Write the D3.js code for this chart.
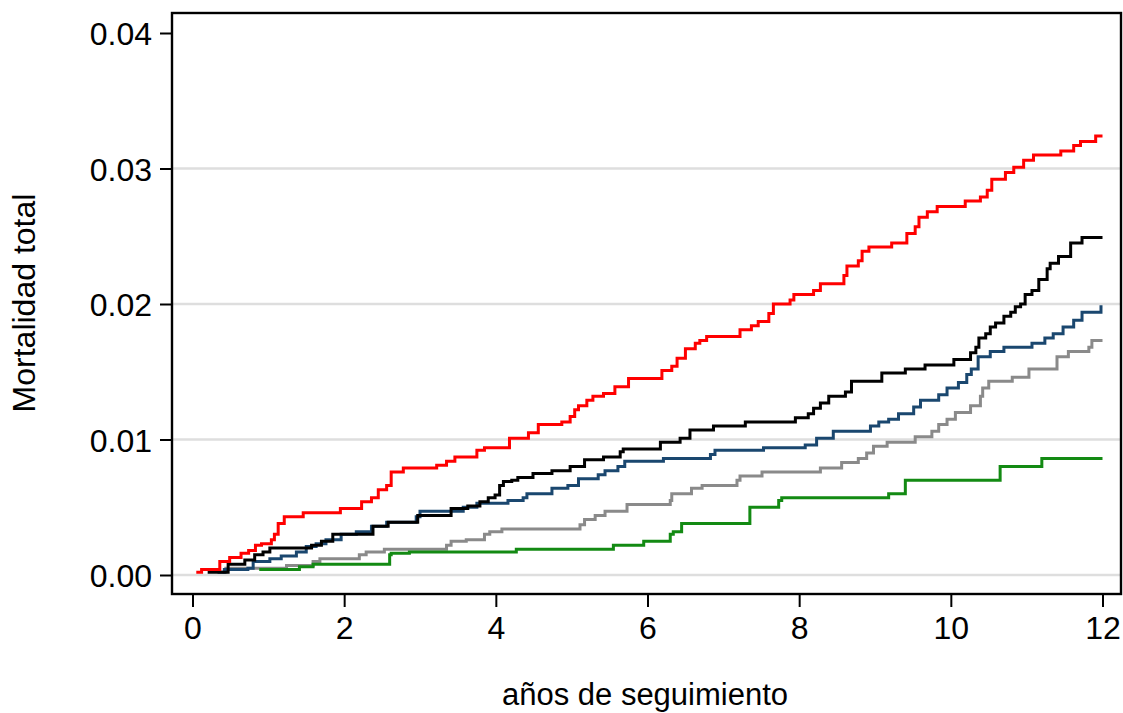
<!DOCTYPE html>
<html>
<head>
<meta charset="utf-8">
<script src="https://cdn.jsdelivr.net/npm/d3@7"></script>
<style>
  body { margin: 0; background: #fff; }
  text { font-family: "Liberation Sans", Arial, Helvetica, sans-serif; }
</style>
</head>
<body>
<svg id="chart" width="1123" height="713"></svg>
<script>
// tiempos (años) y mortalidad acumulada de cada grupo
var tRojo = [0.05, 0.12, 0.36, 0.49, 0.64, 0.74, 0.83, 0.91, 1.04, 1.08, 1.13, 1.21, 1.46, 1.95, 2.23, 2.36, 2.45, 2.56, 2.62, 2.78,
  3.22, 3.35, 3.46, 3.75, 3.85, 4.18, 4.43, 4.56, 4.87, 4.98, 5.04, 5.09, 5.20, 5.28, 5.42, 5.57, 5.75, 6.19, 6.32, 6.39,
  6.50, 6.63, 6.69, 6.78, 7.22, 7.37, 7.46, 7.60, 7.66, 7.88, 7.93, 8.19, 8.28, 8.59, 8.63, 8.78, 8.83, 8.92, 9.22, 9.42,
  9.53, 9.58, 9.69, 9.82, 10.19, 10.39, 10.48, 10.54, 10.72, 10.83, 10.96, 11.09, 11.45, 11.62, 11.71, 11.91, 12.0];
var mRojo = [0.0002, 0.0004, 0.0010, 0.0013, 0.0016, 0.0018, 0.0022, 0.0023, 0.0026, 0.0030, 0.0038, 0.0043, 0.0046, 0.0049, 0.0054, 0.0057, 0.0063, 0.0066, 0.0076, 0.0079,
  0.0081, 0.0084, 0.0087, 0.0092, 0.0094, 0.0101, 0.0105, 0.0111, 0.0113, 0.0117, 0.0122, 0.0125, 0.0129, 0.0132, 0.0134, 0.0139, 0.0145, 0.0151, 0.0154, 0.0160,
  0.0167, 0.0171, 0.0173, 0.0176, 0.0181, 0.0184, 0.0187, 0.0193, 0.0200, 0.0203, 0.0207, 0.0210, 0.0215, 0.0221, 0.0228, 0.0232, 0.0239, 0.0242, 0.0245, 0.0252,
  0.0257, 0.0264, 0.0268, 0.0272, 0.0276, 0.0279, 0.0284, 0.0292, 0.0297, 0.0301, 0.0306, 0.0310, 0.0313, 0.0317, 0.0320, 0.0324, 0.0324];

var tNegro = [0.20, 0.47, 0.69, 0.82, 0.93, 1.02, 1.57, 1.70, 1.85, 2.38, 2.58, 2.97, 3.41, 3.63, 3.79, 3.90, 3.99, 4.05, 4.10, 4.21,
  4.29, 4.49, 4.74, 4.98, 5.17, 5.42, 5.64, 5.68, 6.17, 6.43, 6.56, 6.87, 7.29, 7.95, 8.12, 8.19, 8.28, 8.39, 8.61, 8.69,
  9.09, 9.40, 9.66, 10.04, 10.26, 10.33, 10.37, 10.46, 10.52, 10.59, 10.70, 10.79, 10.85, 10.92, 10.98, 11.07, 11.16, 11.27, 11.31, 11.42,
  11.58, 11.73, 12.0];
var mNegro = [0.0002, 0.0008, 0.0011, 0.0015, 0.0017, 0.0020, 0.0022, 0.0025, 0.0030, 0.0036, 0.0039, 0.0044, 0.0049, 0.0051, 0.0054, 0.0057, 0.0059, 0.0066, 0.0069, 0.0070,
  0.0072, 0.0075, 0.0077, 0.0080, 0.0085, 0.0087, 0.0091, 0.0093, 0.0098, 0.0101, 0.0107, 0.0110, 0.0113, 0.0116, 0.0119, 0.0123, 0.0127, 0.0132, 0.0135, 0.0143,
  0.0149, 0.0152, 0.0155, 0.0159, 0.0164, 0.0168, 0.0175, 0.0178, 0.0183, 0.0186, 0.0191, 0.0194, 0.0198, 0.0200, 0.0207, 0.0210, 0.0218, 0.0226, 0.0230, 0.0235,
  0.0245, 0.0249, 0.0249];

var tAzul = [0.33, 0.42, 0.73, 0.80, 1.02, 1.17, 1.37, 1.50, 1.63, 1.76, 1.96, 2.16, 2.36, 2.56, 2.95, 3.00, 3.57, 3.75, 4.16, 4.36,
  4.41, 4.74, 4.95, 5.09, 5.35, 5.44, 5.61, 5.70, 6.21, 6.83, 6.89, 7.53, 8.08, 8.23, 8.45, 8.94, 9.05, 9.18, 9.31, 9.51,
  9.60, 9.84, 9.95, 10.10, 10.21, 10.27, 10.36, 10.52, 10.70, 11.07, 11.24, 11.35, 11.48, 11.62, 11.73, 11.98, 12.0];
var mAzul = [0.0002, 0.0004, 0.0005, 0.0010, 0.0012, 0.0014, 0.0017, 0.0021, 0.0023, 0.0026, 0.0030, 0.0032, 0.0036, 0.0039, 0.0043, 0.0047, 0.0050, 0.0053, 0.0055, 0.0057,
  0.0060, 0.0064, 0.0066, 0.0071, 0.0074, 0.0077, 0.0080, 0.0084, 0.0086, 0.0089, 0.0092, 0.0094, 0.0096, 0.0101, 0.0106, 0.0110, 0.0113, 0.0115, 0.0119, 0.0124,
  0.0129, 0.0133, 0.0138, 0.0142, 0.0148, 0.0152, 0.0161, 0.0165, 0.0168, 0.0171, 0.0175, 0.0178, 0.0183, 0.0188, 0.0194, 0.0198, 0.0198];

var tGris = [0.40, 0.44, 1.24, 1.59, 1.68, 2.20, 2.29, 2.53, 3.35, 3.41, 3.61, 3.85, 3.92, 4.08, 5.11, 5.17, 5.31, 5.44, 5.73, 6.30,
  6.32, 6.58, 6.72, 7.18, 7.22, 7.51, 8.28, 8.56, 8.78, 8.89, 8.98, 9.16, 9.53, 9.75, 9.84, 9.95, 10.06, 10.26, 10.39, 10.42,
  10.50, 10.81, 11.03, 11.40, 11.55, 11.82, 11.86, 12.0];
var mGris = [0.0002, 0.0005, 0.0007, 0.0010, 0.0012, 0.0015, 0.0017, 0.0019, 0.0022, 0.0025, 0.0026, 0.0030, 0.0032, 0.0034, 0.0037, 0.0041, 0.0044, 0.0047, 0.0052, 0.0055,
  0.0060, 0.0064, 0.0066, 0.0070, 0.0073, 0.0076, 0.0079, 0.0083, 0.0086, 0.0090, 0.0095, 0.0098, 0.0102, 0.0106, 0.0111, 0.0115, 0.0120, 0.0125, 0.0132, 0.0138,
  0.0143, 0.0146, 0.0152, 0.0161, 0.0165, 0.0168, 0.0173, 0.0173];

var tVerde = [0.88, 1.41, 1.59, 2.60, 2.62, 2.86, 4.27, 5.55, 5.95, 6.30, 6.34, 6.45, 7.35, 7.73, 7.77, 9.18, 9.40, 10.65, 11.20, 12.0];
var mVerde = [0.0004, 0.0006, 0.0008, 0.0015, 0.0016, 0.0017, 0.0019, 0.0022, 0.0025, 0.0030, 0.0032, 0.0038, 0.0050, 0.0055, 0.0057, 0.0060, 0.0070, 0.0080, 0.0086, 0.0086];

var xTicks = [0, 2, 4, 6, 8, 10, 12];
var yTicks = [0, 0.01, 0.02, 0.03, 0.04];
var yGrid = [0, 0.01, 0.02, 0.03];

var svg = d3.select("#chart");

// marco del área del gráfico ("top" choca con window.top)
var plotL = 172, plotT = 13, plotR = 1121, plotB = 594;

var x = d3.scaleLinear().domain([0, 12]).range([192.5, 1102.5]);
var y = d3.scaleLinear().domain([0, 0.04]).range([575, 33]);

// líneas de cuadrícula
svg.append("g")
  .selectAll("line")
  .data(yGrid)
  .enter()
  .append("line")
  .attr("x1", plotL)
  .attr("x2", plotR)
  .attr("y1", function (d) { return y(d); })
  .attr("y2", function (d) { return y(d); })
  .attr("stroke", "#dedede")
  .attr("stroke-width", 2.5);

var series = [
  { t: tGris, m: mGris, col: "#8a8a8a" },
  { t: tVerde, m: mVerde, col: "#138a13" },
  { t: tAzul, m: mAzul, col: "#1a476f" },
  { t: tNegro, m: mNegro, col: "#000000" },
  { t: tRojo, m: mRojo, col: "#ff0000" }
];

var line = d3.line()
  .x(function (d) { return x(d[0]); })
  .y(function (d) { return y(d[1]); })
  .curve(d3.curveStepAfter);

series.forEach(function (s) {
  var pts = s.t.map(function (t, i) { return [t, s.m[i]]; });
  svg.append("path")
    .datum(pts)
    .attr("d", line)
    .attr("fill", "none")
    .attr("stroke", s.col)
    .attr("stroke-width", 3);
});

// ejes
var xAxis = d3.axisBottom(x)
  .tickValues(xTicks)
  .tickSize(13)
  .tickPadding(9)
  .tickFormat(d3.format("d"));

var yAxis = d3.axisLeft(y)
  .tickValues(yTicks)
  .tickSize(12)
  .tickPadding(8)
  .tickFormat(d3.format(".2f"));

var gx = svg.append("g")
  .attr("transform", "translate(0," + plotB + ")")
  .call(xAxis);

var gy = svg.append("g")
  .attr("transform", "translate(" + plotL + ",0)")
  .call(yAxis);

[gx, gy].forEach(function (g) {
  g.select(".domain").remove();
  g.selectAll(".tick line").attr("stroke", "#000").attr("stroke-width", 2);
  g.selectAll(".tick text")
    .attr("fill", "#000")
    .style("font-size", "32px");
});
gy.selectAll(".tick text").attr("dy", "0.36em");

svg.append("rect")
  .attr("x", plotL)
  .attr("y", plotT)
  .attr("width", plotR - plotL)
  .attr("height", plotB - plotT)
  .attr("fill", "none")
  .attr("stroke", "#000")
  .attr("stroke-width", 2.4);

// títulos
svg.append("text")
  .attr("x", 645)
  .attr("y", 705)
  .attr("text-anchor", "middle")
  .style("font-size", "31px")
  .text("años de seguimiento");

svg.append("text")
  .attr("transform", "translate(35,303) rotate(-90)")
  .attr("text-anchor", "middle")
  .style("font-size", "32px")
  .text("Mortalidad total");
</script>
</body>
</html>
